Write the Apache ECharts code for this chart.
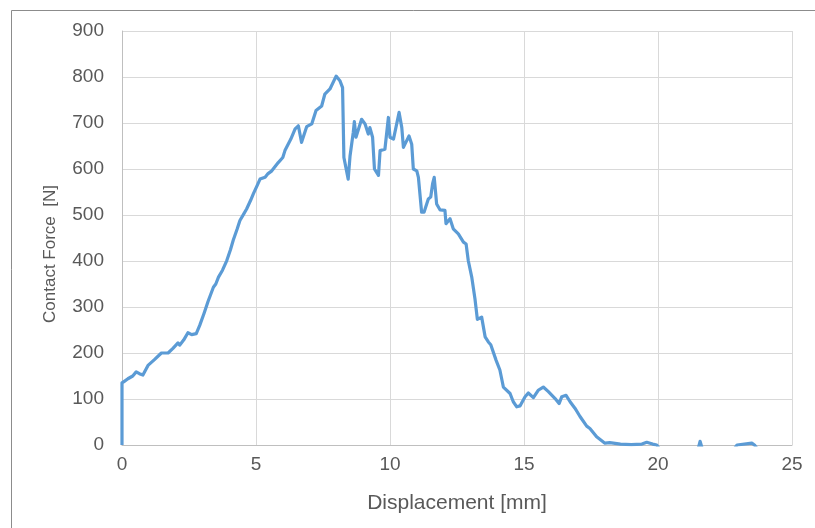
<!DOCTYPE html>
<html>
<head>
<meta charset="utf-8">
<script src="https://cdn.jsdelivr.net/npm/echarts@6/dist/echarts.min.js"></script>
<style>
html,body{margin:0;padding:0;background:#fff;}
#chart{width:815px;height:528px;}
</style>
</head>
<body>
<div id="chart"></div>
<script>
const xTicks = [0, 5, 10, 15, 20, 25];
const yTicks = [0, 100, 200, 300, 400, 500, 600, 700, 800, 900];
const xTitle = 'Displacement [mm]';
const yTitle = 'Contact Force  [N]';

const displacement = [
  0, 0.0, 0.1, 0.22, 0.4, 0.53, 0.65, 0.78, 0.97, 1.2, 1.47, 1.72, 1.9, 2.09, 2.15, 2.3, 2.46, 2.6, 2.77, 2.9,
  3.06, 3.21, 3.41, 3.5, 3.6, 3.75, 3.91, 4.05, 4.15, 4.3, 4.4, 4.55, 4.65, 4.8, 4.9, 5.05, 5.15, 5.34, 5.45, 5.59, 5.83, 6.0, 6.08, 6.15, 6.3, 6.46, 6.58, 6.7, 6.89,
  7.08, 7.24, 7.45, 7.57, 7.76, 7.99, 8.13, 8.23, 8.28, 8.44, 8.51, 8.63, 8.67, 8.73, 8.94, 9.07, 9.19, 9.25, 9.35, 9.42,
  9.57, 9.63, 9.81, 9.94, 10.0, 10.13, 10.34, 10.44, 10.5, 10.71, 10.81, 10.87, 11.0, 11.06, 11.18, 11.27, 11.43, 11.52, 11.59, 11.65,
  11.74, 11.87, 12.05, 12.09, 12.24, 12.36, 12.55, 12.74, 12.84, 12.92, 13.05, 13.17, 13.26, 13.42, 13.55, 13.67, 13.76, 13.96, 14.1, 14.23,
  14.48, 14.6, 14.73, 14.85, 15.04, 15.16, 15.35, 15.53, 15.72, 15.91, 16.16, 16.31, 16.41, 16.57, 16.72, 16.9, 17.09, 17.34, 17.46, 17.71,
  18.02, 18.2, 18.6, 19.0, 19.4, 19.58, 19.8, 19.95, 20.05, 21.5, 21.57, 21.65, 22.85, 22.95, 23.0, 23.5, 23.6, 23.7, 24.2
];
const force = [
  0, 135, 139, 144, 150, 159, 155, 152, 173, 185, 200, 200, 210, 222, 217, 228, 244, 240, 242, 260,
  286, 312, 343, 350, 365, 380, 401, 425, 445, 470, 488, 503, 513, 532, 546, 565, 578, 582, 590, 596, 614, 625, 640, 643, 665, 687, 694, 658, 692,
  698, 727, 737, 763, 774, 802, 792, 777, 625, 578, 629, 680, 703, 669, 708, 698, 676, 690, 669, 600,
  586, 640, 643, 712, 669, 665, 723, 690, 647, 672, 654, 600, 596, 582, 506, 506, 535, 539, 568, 582,
  524, 511, 510, 481, 492, 470, 459, 441, 437, 401, 365, 318, 273, 278, 235, 224, 218, 184, 163, 126,
  112, 94, 83, 85, 105, 113, 103, 119, 126, 116, 101, 90, 105, 108, 94, 80, 62, 41, 36, 18,
  4, 5, 2, 1, 2, 6, 2, 0, -8, -8, 8, -8, -8, 0, 4, 4, 0, -8, -8
];

const seriesData = displacement.map((d, i) => [d, force[i]]);
const font = 'Liberation Sans, Arial, sans-serif';

const chart = echarts.init(document.getElementById('chart'), null, {renderer: 'canvas'});
chart.setOption({
  animation: false,
  backgroundColor: '#ffffff',
  graphic: [{
    type: 'rect',
    left: 9, top: 8,
    shape: {width: 900, height: 600},
    style: {fill: 'none', stroke: '#8c8c8c', lineWidth: 1},
    silent: true
  }],
  grid: {left: 122, right: 23, top: 31, bottom: 83, containLabel: false},
  xAxis: {
    type: 'value',
    min: xTicks[0], max: xTicks[xTicks.length - 1], interval: 5,
    name: xTitle, nameLocation: 'middle', nameGap: 48,
    nameTextStyle: {fontFamily: font, fontSize: 21, color: '#595959'},
    axisLine: {show: true, lineStyle: {color: '#bfbfbf', width: 1}},
    axisTick: {show: false},
    axisLabel: {fontFamily: font, fontSize: 19, color: '#595959', margin: 10},
    splitLine: {show: true, lineStyle: {color: '#d9d9d9', width: 1}}
  },
  yAxis: {
    type: 'value',
    min: yTicks[0], max: yTicks[yTicks.length - 1], interval: 100,
    name: yTitle, nameLocation: 'middle', nameGap: 63, nameRotate: 90,
    nameTextStyle: {fontFamily: font, fontSize: 17, color: '#595959', padding: [0, 32, 0, 0]},
    axisLine: {show: true, lineStyle: {color: '#bfbfbf', width: 1}},
    axisTick: {show: false},
    axisLabel: {fontFamily: font, fontSize: 19, color: '#595959', margin: 18},
    splitLine: {show: true, lineStyle: {color: '#d9d9d9', width: 1}}
  },
  series: [{
    type: 'line',
    data: seriesData,
    showSymbol: false,
    smooth: false,
    clip: true,
    lineStyle: {color: '#5b9bd5', width: 3.2, join: 'round'},
    itemStyle: {color: '#5b9bd5'}
  }]
});
</script>
</body>
</html>
